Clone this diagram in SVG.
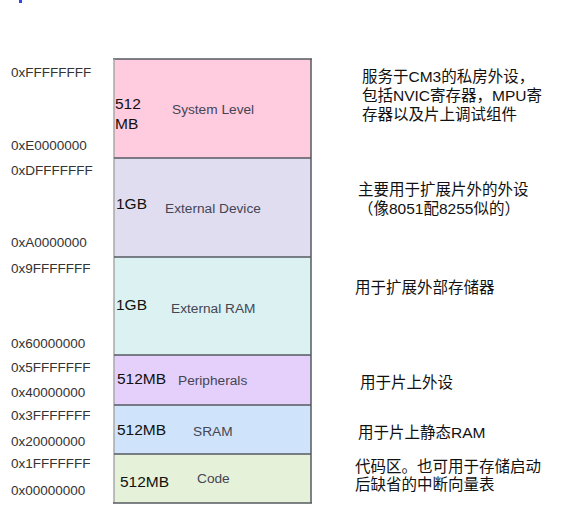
<svg xmlns="http://www.w3.org/2000/svg" width="566" height="511" viewBox="0 0 566 511">
<style>
.addr{font-family:"Liberation Sans",Arial,sans-serif;font-size:13.5px;fill:#333}
.size{font-family:"Liberation Sans",Arial,sans-serif;font-size:15.5px;fill:#111}
.name{font-family:"Liberation Sans",Arial,sans-serif;font-size:13.7px;fill:#454554}
.note{font-family:"Liberation Sans","Noto Sans CJK SC",sans-serif;font-size:15.5px;fill:#111}
.div{stroke:#555a60;stroke-width:1.5;fill:none}
</style>
<rect width="566" height="511" fill="#fff"/>
<rect x="19" y="0" width="3" height="3" fill="#3344ee"/>
<g id="addresses">
<text class="addr" x="11" y="77">0xFFFFFFFF</text>
<text class="addr" x="11" y="150">0xE0000000</text>
<text class="addr" x="11" y="175">0xDFFFFFFF</text>
<text class="addr" x="11" y="247">0xA0000000</text>
<text class="addr" x="11" y="273">0x9FFFFFFF</text>
<text class="addr" x="11" y="348">0x60000000</text>
<text class="addr" x="11" y="372">0x5FFFFFFF</text>
<text class="addr" x="11" y="397">0x40000000</text>
<text class="addr" x="11" y="420">0x3FFFFFFF</text>
<text class="addr" x="11" y="446">0x20000000</text>
<text class="addr" x="11" y="468">0x1FFFFFFF</text>
<text class="addr" x="11" y="495">0x00000000</text>
</g>
<g id="system-level">
<rect x="114" y="59" width="197" height="99" fill="#ffcbdf"/>
<text class="size" x="115" y="109">512</text>
<text class="size" x="115" y="129">MB</text>
<text class="name" x="172" y="114">System Level</text>
</g>
<g id="external-device">
<rect x="114" y="158" width="197" height="99" fill="#e1ddf1"/>
<text class="size" x="116" y="209">1GB</text>
<text class="name" x="165" y="213">External Device</text>
</g>
<g id="external-ram">
<rect x="114" y="257" width="197" height="98" fill="#dcf1f2"/>
<text class="size" x="116" y="310">1GB</text>
<text class="name" x="171" y="313">External RAM</text>
</g>
<g id="peripherals">
<rect x="114" y="355" width="197" height="50" fill="#e4d0fb"/>
<text class="size" x="117" y="384">512MB</text>
<text class="name" x="178" y="385">Peripherals</text>
</g>
<g id="sram">
<rect x="114" y="405" width="197" height="49" fill="#cfe4fb"/>
<text class="size" x="117" y="435">512MB</text>
<text class="name" x="193" y="436">SRAM</text>
</g>
<g id="code">
<rect x="114" y="454" width="197" height="49" fill="#e5f2d9"/>
<text class="size" x="120" y="487">512MB</text>
<text class="name" x="197" y="483">Code</text>
</g>
<g id="borders">
<line class="div" x1="113" y1="59" x2="312" y2="59"/>
<line x1="114" y1="59" x2="114" y2="503" stroke="#a8a8a8" stroke-width="1.5"/>
<line class="div" x1="311" y1="59" x2="311" y2="503"/>
<line class="div" x1="113" y1="503" x2="312" y2="503"/>
<line class="div" x1="114" y1="158" x2="311" y2="158"/>
<line class="div" x1="114" y1="257" x2="311" y2="257"/>
<line class="div" x1="114" y1="355" x2="311" y2="355"/>
<line class="div" x1="114" y1="405" x2="311" y2="405"/>
<line class="div" x1="114" y1="454" x2="311" y2="454"/>
</g>
<g id="notes">
<text class="note" x="362" y="82">服务于CM3的私房外设，</text>
<text class="note" x="362" y="101">包括NVIC寄存器，MPU寄</text>
<text class="note" x="362" y="120">存器以及片上调试组件</text>
<text class="note" x="358" y="195">主要用于扩展片外的外设</text>
<text class="note" x="358" y="214">（像8051配8255似的）</text>
<text class="note" x="355" y="293">用于扩展外部存储器</text>
<text class="note" x="360" y="388">用于片上外设</text>
<text class="note" x="358" y="438">用于片上静态RAM</text>
<text class="note" x="355" y="472">代码区。也可用于存储启动</text>
<text class="note" x="355" y="490">后缺省的中断向量表</text>
</g>
</svg>
